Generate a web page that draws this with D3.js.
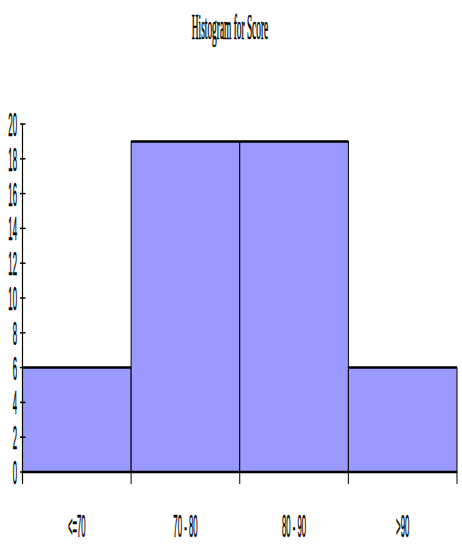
<!DOCTYPE html>
<html>
<head>
<meta charset="utf-8">
<script src="https://cdn.jsdelivr.net/npm/d3@7"></script>
<style>
  body { margin: 0; background: #fff; }
</style>
</head>
<body>
<div id="chart"></div>
<script>
const categories = ["<=70", "70 - 80", "80 - 90", ">90"];
const counts = [6, 19, 19, 6];
const yTicks = [0, 2, 4, 6, 8, 10, 12, 14, 16, 18, 20];
const title = "Histogram for Score";

var width = 462, height = 558;
var margin = {left: 22.5, right: 5, top: 124, bottom: 86};

var svg = d3.select("#chart").append("svg")
    .attr("width", width)
    .attr("height", height);

var x = d3.scaleBand()
    .domain(categories)
    .range([margin.left, width - margin.right])
    .paddingInner(0).paddingOuter(0);

var y = d3.scaleLinear()
    .domain([0, 20])
    .range([height - margin.bottom, margin.top]);

// squeezed text helper, the source picture has very narrow tall glyphs
function squeezed(sel, px, py, sx, sy) {
  return sel.attr("transform", "translate(" + px + "," + py + ") scale(" + sx + "," + sy + ")");
}

// title
squeezed(svg.append("text"), 230, 39, 0.78, 2.9)
    .attr("text-anchor", "middle")
    .style("font-family", "Liberation Serif")
    .style("font-size", "12px")
    .style("stroke", "#000")
    .style("stroke-width", 0.25)
    .text(title);

// bars
var bars = svg.append("g").selectAll("g")
    .data(counts)
  .enter().append("g");

bars.append("rect")
    .attr("x", function(d, i) { return x(categories[i]); })
    .attr("y", function(d) { return y(d); })
    .attr("width", x.bandwidth())
    .attr("height", function(d) { return y(0) - y(d); })
    .style("fill", "#9999ff")
    .style("stroke", "#000")
    .style("stroke-width", 1);

bars.append("line")
    .attr("x1", function(d, i) { return x(categories[i]); })
    .attr("x2", function(d, i) { return x(categories[i]) + x.bandwidth(); })
    .attr("y1", function(d) { return y(d); })
    .attr("y2", function(d) { return y(d); })
    .style("stroke", "#000")
    .style("stroke-width", 2.5);

// y axis
var yAxis = svg.append("g");
yAxis.append("line")
    .attr("x1", margin.left).attr("x2", margin.left)
    .attr("y1", y(20)).attr("y2", y(0) + 12)
    .style("stroke", "#000").style("stroke-width", 1.2);

yAxis.selectAll(".tick")
    .data(yTicks)
  .enter().append("line")
    .attr("x1", margin.left - 2.5).attr("x2", margin.left + 3)
    .attr("y1", function(d) { return y(d); })
    .attr("y2", function(d) { return y(d); })
    .style("stroke", "#000").style("stroke-width", 1.5);

yAxis.selectAll(".lbl")
    .data(yTicks)
  .enter().append("text")
    .each(function(d) {
      squeezed(d3.select(this), 17, y(d) + 12, 0.65, 2.8);
    })
    .attr("text-anchor", "end")
    .style("font-family", "Liberation Sans")
    .style("font-size", "12px")
    .style("stroke", "#000")
    .style("stroke-width", 0.2)
    .text(function(d) { return d; });

// x axis baseline
svg.append("line")
    .attr("x1", margin.left).attr("x2", width - margin.right)
    .attr("y1", y(0)).attr("y2", y(0))
    .style("stroke", "#000").style("stroke-width", 2.5);

var edges = categories.map(function(c) { return x(c); }).concat([x.range()[1]]);
svg.append("g").selectAll("line")
    .data(edges)
  .enter().append("line")
    .attr("x1", function(d) { return d; }).attr("x2", function(d) { return d; })
    .attr("y1", y(0)).attr("y2", y(0) + 12)
    .style("stroke", "#000").style("stroke-width", 1);

svg.append("g").selectAll("text")
    .data(categories)
  .enter().append("text")
    .each(function(d) {
      squeezed(d3.select(this), x(d) + x.bandwidth() / 2, 537, 0.65, 2.6);
    })
    .attr("text-anchor", "middle")
    .style("font-family", "Liberation Sans")
    .style("font-size", "12px")
    .style("stroke", "#000")
    .style("stroke-width", 0.2)
    .text(function(d) { return d; });
</script>
</body>
</html>
